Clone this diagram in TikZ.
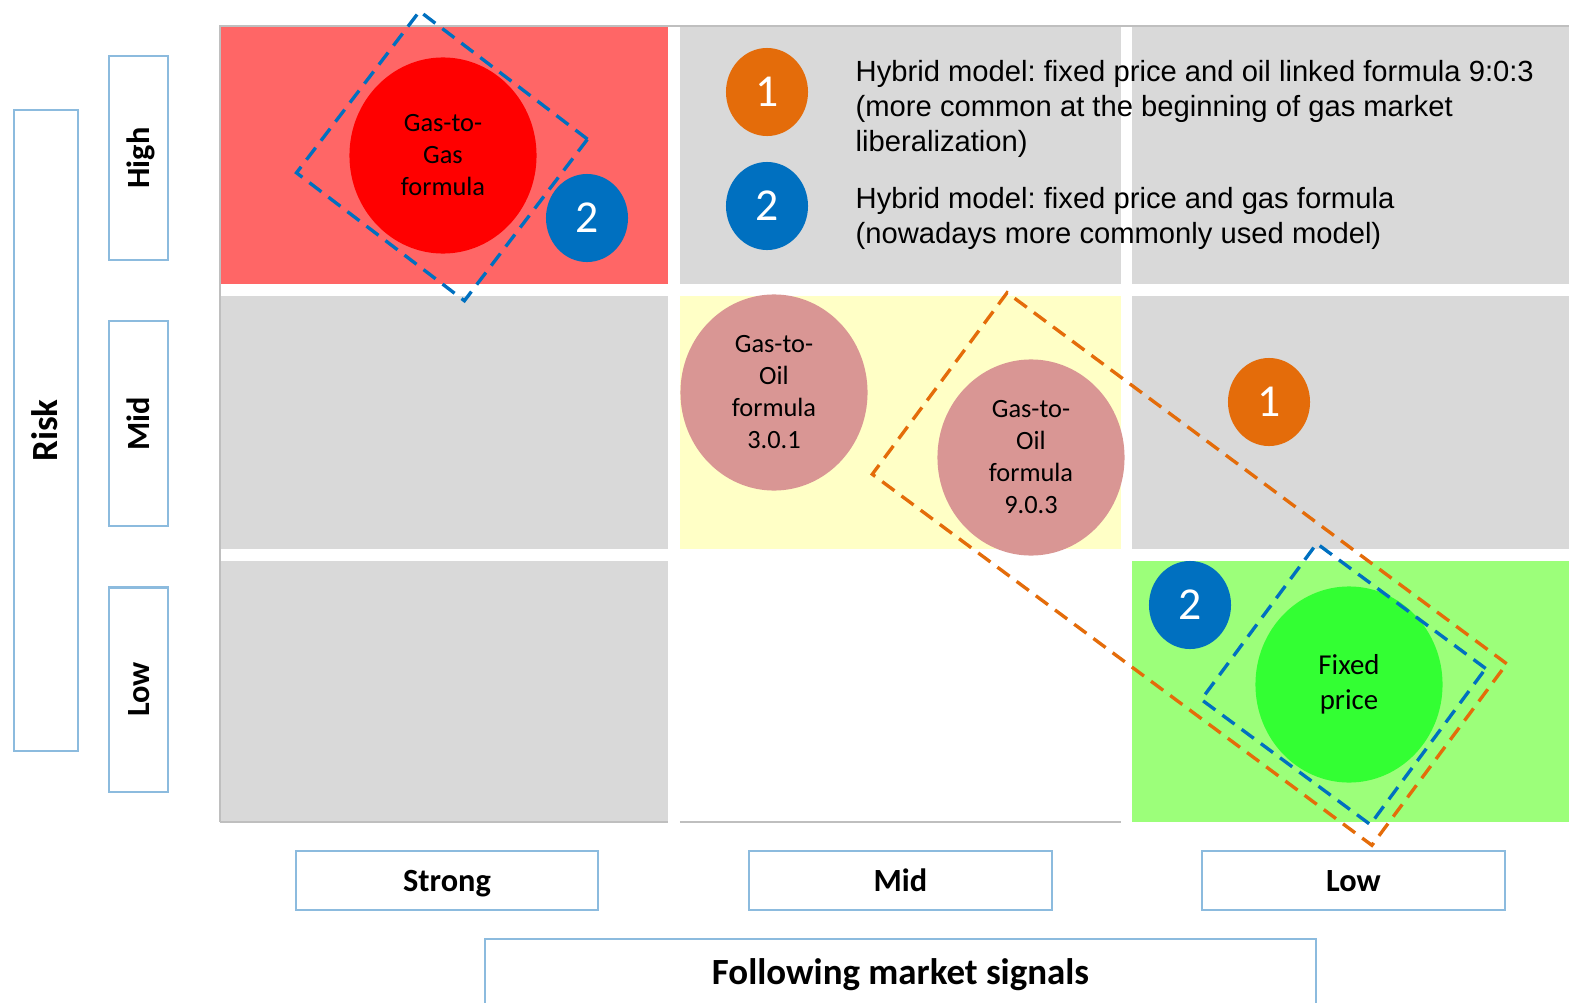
\documentclass[tikz,border=0pt]{standalone}
\usepackage{fontspec}
\setmainfont{Carlito}
\newfontfamily\legendfont{Liberation Sans}
\usetikzlibrary{shapes.geometric}
\frenchspacing
\definecolor{cellgrey}{HTML}{D9D9D9}
\definecolor{cellred}{HTML}{FF6666}
\definecolor{cellyellow}{HTML}{FFFFC6}
\definecolor{cellgreen}{HTML}{9CFF7A}
\definecolor{blobred}{HTML}{FF0000}
\definecolor{blobpink}{HTML}{D99694}
\definecolor{blobgreen}{HTML}{33FF33}
\definecolor{oneorange}{HTML}{E46C0A}
\definecolor{twoblue}{HTML}{0070C0}
\definecolor{boxblue}{HTML}{8CBBDE}
\definecolor{edgegrey}{HTML}{BFBFBF}
\begin{document}
\begin{tikzpicture}[x=0.01cm,y=-0.01cm,
			cell/.style={inner sep=0pt,outer sep=0pt,draw=none},
			blob/.style={ellipse,inner sep=0pt,minimum width=1.87cm,minimum height=1.96cm,align=center,
				font=\fontsize{7.5}{9.1}\selectfont},
			badge/.style={ellipse,inner sep=0pt,minimum width=0.82cm,minimum height=0.88cm,text=white,
				font=\fontsize{13}{15}\selectfont},
			legend/.style={anchor=west,align=left,inner sep=0pt,font=\legendfont\fontsize{8.3}{10}\selectfont},
			frame/.style={draw,dashed,dash pattern=on 4.3pt off 2.5pt,line width=0.95pt,inner sep=0pt},
			lbl/.style={draw=boxblue,line width=0.6pt,inner sep=0pt,text height=0.63em,text depth=0pt,
				font=\bfseries\fontsize{9.2}{11}\selectfont},
			edge/.style={draw=edgegrey,line width=0.5pt}]
			\useasboundingbox (0,0) rectangle (1569,1003);
			% grid of cells
			\node[cell,fill=cellred,minimum width=4.48cm,minimum height=2.58cm] (c11) at (444,155) {};
			\node[cell,fill=cellgrey,minimum width=4.41cm,minimum height=2.58cm] (c12) at (900.5,155) {};
			\node[cell,fill=cellgrey,minimum width=4.37cm,minimum height=2.58cm] (c13) at (1350.5,155) {};
			\node[cell,fill=cellgrey,minimum width=4.48cm,minimum height=2.53cm] (c21) at (444,422.5) {};
			\node[cell,fill=cellyellow,minimum width=4.41cm,minimum height=2.53cm] (c22) at (900.5,422.5) {};
			\node[cell,fill=cellgrey,minimum width=4.37cm,minimum height=2.53cm] (c23) at (1350.5,422.5) {};
			\node[cell,fill=cellgrey,minimum width=4.48cm,minimum height=2.61cm] (c31) at (444,691.5) {};
			\node[cell,fill=white,minimum width=4.41cm,minimum height=2.61cm] (c32) at (900.5,691.5) {};
			\node[cell,fill=cellgreen,minimum width=4.37cm,minimum height=2.61cm] (c33) at (1350.5,691.5) {};
			\draw[edge] (c31.south west) -- (c11.north west) -- (c13.north east);
			\draw[edge] (c31.south west) -- (c31.south east);
			\draw[edge] (c32.south west) -- (c32.south east);
			% pricing models
			\node[blob,fill=blobred] (g2g) at (443,155.5) {Gas-to-\\Gas\\formula};
			\node[blob,fill=blobpink] (g2o301) at (774,392.5) {Gas-to-\\Oil\\formula\\3.0.1};
			\node[blob,fill=blobpink] (g2o903) at (1031,457.5) {Gas-to-\\Oil\\formula\\9.0.3};
			\node[blob,fill=blobgreen,font=\fontsize{8.2}{10}\selectfont] (fixed) at (1349,684.5) {Fixed\\price};
			% hybrid markers
			\node[badge,fill=twoblue] (twoa) at (587,218) {2};
			\node[badge,fill=oneorange] (keyone) at (767,92) {1};
			\node[badge,fill=twoblue] (keytwo) at (767,206) {2};
			\node[badge,fill=oneorange] (onea) at (1269,402) {1};
			\node[badge,fill=twoblue] (twob) at (1190,605) {2};
			\node[legend] (keyonetext) at (855,109) {Hybrid model: fixed price and oil linked formula 9:0:3\\(more common at the beginning of gas market\\liberalization)};
			\node[legend] (keytwotext) at (855,218.5) {Hybrid model: fixed price and gas formula\\(nowadays more commonly used model)};
			% dashed groupings
			\node[frame,draw=twoblue,rotate=-37.3,minimum width=2.11cm,minimum height=2.03cm] (grouptwoa) at (442,156) {};
			\node[frame,draw=oneorange,rotate=-36.6,minimum width=6.22cm,minimum height=2.26cm] (groupone) at (1189.5,569) {};
			\node[frame,draw=twoblue,rotate=-36.5,minimum width=2.10cm,minimum height=1.94cm] (grouptwob) at (1343.5,684) {};
			% axis labels
			\node[lbl,rotate=90,font=\bfseries\fontsize{10.5}{12}\selectfont,minimum width=6.41cm,minimum height=0.64cm] (risk) at (46,430.5) {Risk};
			\node[lbl,rotate=90,minimum width=2.04cm,minimum height=0.59cm] (riskhigh) at (138.5,158) {High};
			\node[lbl,rotate=90,minimum width=2.04cm,minimum height=0.59cm] (riskmid) at (138.5,423.5) {Mid};
			\node[lbl,rotate=90,minimum width=2.04cm,minimum height=0.59cm] (risklow) at (138.5,689.5) {Low};
			\node[lbl,minimum width=3.02cm,minimum height=0.59cm] (sigstrong) at (447,880.5) {Strong};
			\node[lbl,minimum width=3.03cm,minimum height=0.59cm] (sigmid) at (900.5,880.5) {Mid};
			\node[lbl,minimum width=3.03cm,minimum height=0.59cm] (siglow) at (1353.5,880.5) {Low};
			\node[lbl,font=\bfseries\fontsize{10.5}{12}\selectfont,minimum width=8.31cm,minimum height=0.68cm] (signals) at (900.5,973) {Following market signals};
		\end{tikzpicture}
\end{document}
